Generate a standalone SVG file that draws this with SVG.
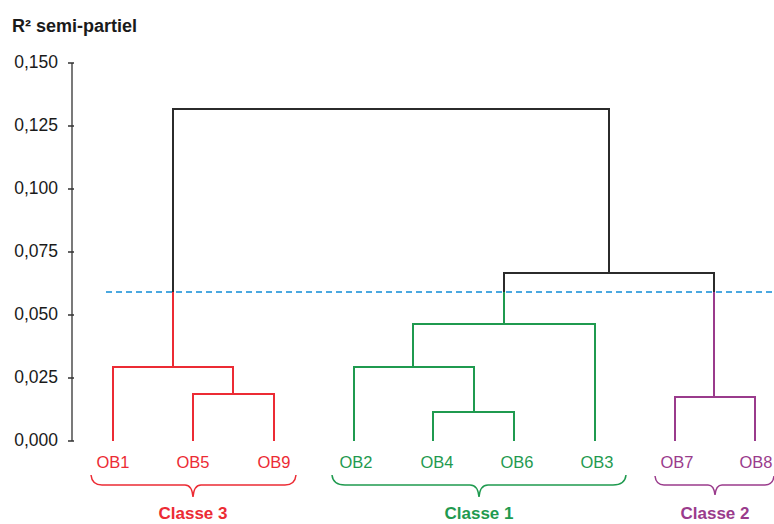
<svg xmlns="http://www.w3.org/2000/svg" width="774" height="524" viewBox="0 0 774 524">
<style>
  text { font-family: "Liberation Sans", Arial, sans-serif; }
  .tick { font-size: 17.5px; fill: #1a1a1a; text-anchor: end; }
  .leaf { font-size: 16.5px; text-anchor: middle; }
  .cls { font-size: 17px; font-weight: bold; text-anchor: middle; }
  .axis { stroke: #333; stroke-width: 1.3; fill: none; }
  .blk { stroke: #2b2b2b; stroke-width: 2; fill: none; }
  .red { stroke: #ec2b34; stroke-width: 2; fill: none; }
  .grn { stroke: #1f9a4f; stroke-width: 2; fill: none; }
  .pur { stroke: #9a3b8c; stroke-width: 2; fill: none; }
  .brace { stroke-width: 1.5; fill: none; }
  .cut { stroke: #4aa8e0; stroke-width: 2; stroke-dasharray: 6 4; fill: none; }
</style>
<g id="axis">
  <text x="12" y="32" style="font-size:18px;font-weight:bold;fill:#1a1a1a">R² semi-partiel</text>
  <path class="axis" d="M72,63 V441 M68,63 H74 M68,126 H74 M68,189 H74 M68,252 H74 M68,315 H74 M68,378 H74 M68,441 H74"/>
  <text class="tick" x="58" y="68">0,150</text>
  <text class="tick" x="58" y="131">0,125</text>
  <text class="tick" x="58" y="194">0,100</text>
  <text class="tick" x="58" y="257">0,075</text>
  <text class="tick" x="58" y="320">0,050</text>
  <text class="tick" x="58" y="383">0,025</text>
  <text class="tick" x="58" y="446">0,000</text>
</g>
<g id="connectors">
  <path class="blk" d="M173,292 V109 H609 V273 M504,292 V273 H714 V292"/>
  <path class="red" d="M173,292 V367 M113,441 V367 H233 V394 M193,441 V394 H274 V441"/>
  <path class="grn" d="M504,292 V324 M413,367 V324 H595 V441 M354,441 V367 H474 V412 M433,441 V412 H514 V441"/>
  <path class="pur" d="M714,292 V397 M675,441 V397 H755 V441"/>
  <path class="cut" d="M106,292 H774"/>
</g>
<g id="class3" fill="#ec2b34">
  <text class="leaf" x="113" y="468">OB1</text>
  <text class="leaf" x="193" y="468">OB5</text>
  <text class="leaf" x="274" y="468">OB9</text>
  <path class="brace" stroke="#ec2b34" d="M91,475 Q92,485 102,485 H185 Q192,485 193,497 Q194,485 201,485 H285 Q295,485 296,475"/>
  <text class="cls" x="193" y="519">Classe 3</text>
</g>
<g id="class1" fill="#1f9a4f">
  <text class="leaf" x="356" y="468">OB2</text>
  <text class="leaf" x="437" y="468">OB4</text>
  <text class="leaf" x="517" y="468">OB6</text>
  <text class="leaf" x="597" y="468">OB3</text>
  <path class="brace" stroke="#1f9a4f" d="M332,475 Q333,485 345,485 H470 Q478,485 479,497 Q480,485 488,485 H613 Q625,485 626,475"/>
  <text class="cls" x="479" y="519">Classe 1</text>
</g>
<g id="class2" fill="#9a3b8c">
  <text class="leaf" x="677" y="468">OB7</text>
  <text class="leaf" x="756" y="468">OB8</text>
  <path class="brace" stroke="#9a3b8c" d="M655,476 Q656,485 664,485 H708 Q714,485 715,495 Q716,485 722,485 H765 Q773,485 774,476"/>
  <text class="cls" x="715" y="519">Classe 2</text>
</g>
</svg>
